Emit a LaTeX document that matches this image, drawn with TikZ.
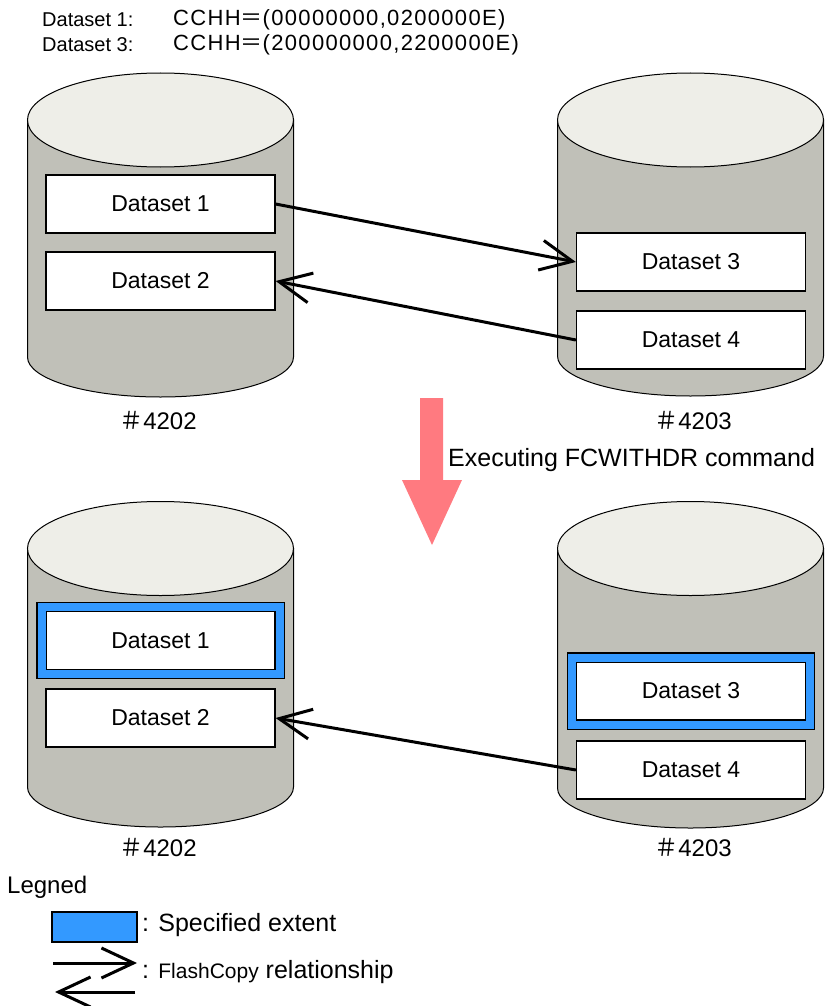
\documentclass[tikz,border=0pt]{standalone}
\usepackage{fontspec}
\setmainfont{Liberation Sans}
\newfontfamily\cjk{Noto Sans CJK JP}
\usetikzlibrary{arrows.meta}
\definecolor{diskgray}{RGB}{192,192,184}
\definecolor{topgray}{RGB}{238,238,232}
\definecolor{extentblue}{RGB}{51,153,255}
\definecolor{stepred}{RGB}{255,122,128}
\begin{document}
\begin{tikzpicture}[x=1pt,y=-1pt,
  disk/.style={fill=diskgray,draw=black,line width=1pt},
  disktop/.style={fill=topgray,draw=black,line width=1pt},
  dataset/.style={draw,fill=white,line width=1.2pt,minimum width=229pt,minimum height=58pt,inner sep=0pt,font=\fontsize{23}{27}\selectfont},
  extent/.style={dataset,double=extentblue,double distance=8pt,minimum width=238pt,minimum height=67pt},
  volname/.style={font=\fontsize{24}{28}\selectfont},
  txt/.style={anchor=west,inner sep=0pt,font=\fontsize{22}{26}\selectfont},
  flash/.style={-{Straight Barb[length=32pt,width=30pt]},line width=3pt}]
  \useasboundingbox (0,0) rectangle (825,1006);
  % extents of the datasets
  \node[txt,font=\fontsize{20}{24}\selectfont] (hdr1) at (42,20) {Dataset 1:};
  \node[txt,font=\fontsize{22}{26}\selectfont\addfontfeature{LetterSpace=6}] (cchh1) at (173,20) {CCHH{\cjk ＝}(00000000,0200000E)};
  \node[txt,font=\fontsize{20}{24}\selectfont] (hdr3) at (42,45) {Dataset 3:};
  \node[txt,font=\fontsize{22}{26}\selectfont\addfontfeature{LetterSpace=6}] (cchh3) at (173,45) {CCHH{\cjk ＝}(200000000,2200000E)};
  % volumes, before and after
  \foreach \cx/\ct/\cb in {160.5/120/357,690.5/120/356,160.5/548.5/787,690.5/548.5/788} {
    \draw[disk] ({\cx-133},\ct) -- ({\cx-133},\cb)
      arc[start angle=180,end angle=0,x radius=133,y radius=40] -- ({\cx+133},\ct) -- cycle;
    \draw[disktop] (\cx,\ct) ellipse[x radius=133,y radius=47];
  }
  \node[volname] (vol1) at (158,421) {{\cjk ＃}4202};
  \node[volname] (vol2) at (693,421) {{\cjk ＃}4203};
  \node[volname] (vol3) at (158,848) {{\cjk ＃}4202};
  \node[volname] (vol4) at (693,848) {{\cjk ＃}4203};
  % before
  \node[dataset] (d1) at (160.5,204) {Dataset 1};
  \node[dataset] (d2) at (160.5,281) {Dataset 2};
  \node[dataset] (d3) at (691,262) {Dataset 3};
  \node[dataset] (d4) at (691,340) {Dataset 4};
  \draw[flash] (d1.east) -- (d3.west);
  \draw[flash] (d4.west) -- (d2.east);
  % command
  \fill[stepred] (420,398) -- (443,398) -- (443,480) -- (462,480) -- (432,545)
    -- (402,480) -- (420,480) -- cycle;
  \node[txt,font=\fontsize{25}{29}\selectfont] (cmd) at (448,460) {Executing FCWITHDR command};
  % after
  \node[extent] (e1) at (160.5,640.5) {Dataset 1};
  \node[dataset] (e2) at (160.5,718) {Dataset 2};
  \node[extent] (e3) at (691,691) {Dataset 3};
  \node[dataset] (e4) at (691,770) {Dataset 4};
  \draw[flash] (e4.west) -- (e2.east);
  % legend
  \node[txt,font=\fontsize{24}{28}\selectfont] (leg) at (7,887) {Legned};
  \node[draw,fill=extentblue,line width=1.2pt,minimum width=85pt,minimum height=30pt] (legbox) at (94.5,927) {};
  \node[txt,font=\fontsize{25}{29}\selectfont] (legext) at (142,925) {: Specified extent};
  \coordinate (la1) at (53,963);
  \coordinate (la2) at (137,963);
  \coordinate (lb1) at (135,992);
  \coordinate (lb2) at (55,992);
  \draw[flash] (la1) -- (la2);
  \draw[flash] (lb1) -- (lb2);
  \node[txt,font=\fontsize{25}{29}\selectfont] (legrel) at (142,972) {: {\fontsize{21}{24}\selectfont FlashCopy} relationship};
\end{tikzpicture}
\end{document}
